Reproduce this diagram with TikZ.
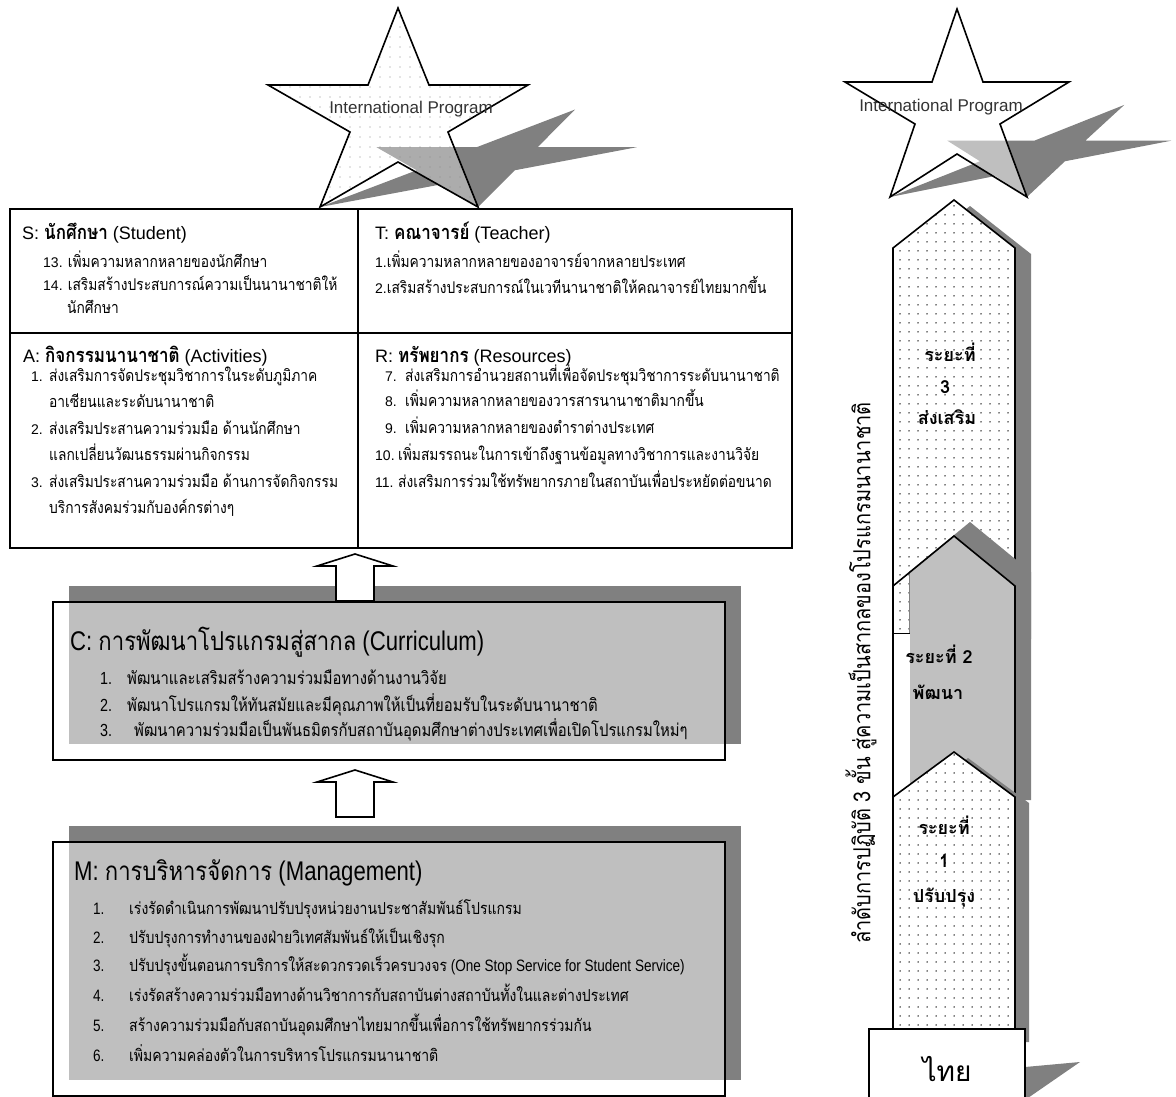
\documentclass[tikz,border=0pt]{standalone}
\usepackage{fontspec}
\setmainfont{Liberation Sans}
\newfontfamily\thfont[Script=Thai]{Loma}
\newfontfamily\thtab[Script=Thai,FakeStretch=0.85]{Loma}
\newfontfamily\thnarrow[Script=Thai,FakeStretch=0.85]{Loma}
\newfontfamily\latnarrow[FakeStretch=0.82]{Liberation Sans}
\usepackage{tikz}
\usetikzlibrary{patterns.meta}
\definecolor{shade}{HTML}{808080}
\definecolor{panel}{HTML}{C0C0C0}
\tikzset{
  frame/.style={draw=black, line width=2pt},
  outline/.style={draw=black, line width=1.6pt, line join=miter},
  shadow/.style={fill=shade, draw=none},
  halfwhite/.style={fill=white, fill opacity=0.5},
  dotfill/.style={fill=white, postaction={pattern={Dots[distance=9pt, radius=0.75pt]}, pattern color=black}},
  hollow/.style={draw=black, line width=1.6pt, fill=white, line join=miter},
  hdr/.style={anchor=base west, inner sep=0pt, font=\fontsize{18}{20}\selectfont},
  itm/.style={anchor=base west, inner sep=0pt, font=\fontsize{14}{16}\selectfont},
  bighdr/.style={anchor=base west, inner sep=0pt, font=\latnarrow\fontsize{27}{30}\selectfont},
  citm/.style={anchor=base west, inner sep=0pt, font=\latnarrow\fontsize{17.5}{19}\selectfont},
  bigitm/.style={anchor=base west, inner sep=0pt, font=\latnarrow\fontsize{16.5}{18}\selectfont},
  startxt/.style={anchor=base, inner sep=0pt, text=black!80, font=\fontsize{17}{19}\selectfont},
  stagetxt/.style={anchor=base, inner sep=0pt, font=\thfont\bfseries\fontsize{18}{20}\selectfont},
  starL/.style={insert path={(398,8) -- (429,85) -- (528,85) -- (448,132) -- (478,207) -- (398,162) -- (320,207) -- (350,132) -- (268,85) -- (368,85) -- cycle}},
  starR/.style={insert path={(957,9) -- (983,82) -- (1069,82) -- (1000,124) -- (1027,197) -- (957,154) -- (890,197) -- (915,124) -- (845,82) -- (932,82) -- cycle}},
}
\newcommand\thb[1]{{\thtab\bfseries\fontsize{20}{22}\selectfont #1}}
\newcommand\thr[1]{{\thtab\fontsize{16.2}{18}\selectfont #1}}
\newcommand\thn[1]{{\thnarrow #1}}

\begin{document}
\begin{tikzpicture}[x=1pt, y=-1pt]
  \useasboundingbox (0,0) rectangle (1176,1097);

  % stars with their cast shadows
  \begin{scope}[cm={1,0,0.89,0.49,(184.2pt,-105.6pt)}]
    \fill[shadow, starL];
  \end{scope}
  \path[fill=white, fill opacity=0.35, starL];
  \path[pattern={Dots[distance=10pt, radius=0.7pt]}, pattern color=black!45, starL];
  \draw[outline, starL];
  \node[startxt] (ipleft) at (411,114) {International Program};

  \begin{scope}[cm={1,0,0.89,0.49,(175.3pt,-100.5pt)}]
    \fill[shadow, starR];
  \end{scope}
  \draw[outline, halfwhite, starR];
  \node[startxt] (ipright) at (941,112) {International Program};

  % STAR table
  \draw[frame] (10,209) rectangle (792,548);
  \draw[frame] (358,209) -- (358,548);
  \draw[frame] (10,333) -- (792,333);

  \node[hdr] (shead) at (22,239) {S: \thb{นักศึกษา} (Student)};
  \node[itm] (s13) at (43,267) {13. \thr{เพิ่มความหลากหลายของนักศึกษา}};
  \node[itm] (s14) at (43,290) {14. \thr{เสริมสร้างประสบการณ์ความเป็นนานาชาติให้}};
  \node[itm] (s14b) at (67,313) {\thr{นักศึกษา}};

  \node[hdr] (thead) at (375,239) {T: \thb{คณาจารย์} (Teacher)};
  \node[itm] (t1) at (375,267) {1.\thr{เพิ่มความหลากหลายของอาจารย์จากหลายประเทศ}};
  \node[itm] (t2) at (375,293) {2.\thr{เสริมสร้างประสบการณ์ในเวทีนานาชาติให้คณาจารย์ไทยมากขึ้น}};

  \node[hdr] (ahead) at (23,362) {A: \thb{กิจกรรมนานาชาติ} (Activities)};
  \node[itm] (a1) at (31,381) {\makebox[18pt][l]{1.}\thr{ส่งเสริมการจัดประชุมวิชาการในระดับภูมิภาค}};
  \node[itm] (a1b) at (49,407) {\thr{อาเซียนและระดับนานาชาติ}};
  \node[itm] (a2) at (31,434) {\makebox[18pt][l]{2.}\thr{ส่งเสริมประสานความร่วมมือ ด้านนักศึกษา}};
  \node[itm] (a2b) at (49,460) {\thr{แลกเปลี่ยนวัฒนธรรมผ่านกิจกรรม}};
  \node[itm] (a3) at (31,487) {\makebox[18pt][l]{3.}\thr{ส่งเสริมประสานความร่วมมือ ด้านการจัดกิจกรรม}};
  \node[itm] (a3b) at (49,513) {\thr{บริการสังคมร่วมกับองค์กรต่างๆ}};

  \node[hdr] (rhead) at (375,362) {R: \thb{ทรัพยากร} (Resources)};
  \node[itm] (r7) at (385,381) {\makebox[20pt][l]{7.}\thr{ส่งเสริมการอำนวยสถานที่เพื่อจัดประชุมวิชาการระดับนานาชาติ}};
  \node[itm] (r8) at (385,406) {\makebox[20pt][l]{8.}\thr{เพิ่มความหลากหลายของวารสารนานาชาติมากขึ้น}};
  \node[itm] (r9) at (385,433) {\makebox[20pt][l]{9.}\thr{เพิ่มความหลากหลายของตำราต่างประเทศ}};
  \node[itm] (r10) at (375,460) {\makebox[23pt][l]{10.}\thr{เพิ่มสมรรถนะในการเข้าถึงฐานข้อมูลทางวิชาการและงานวิจัย}};
  \node[itm] (r11) at (375,487) {\makebox[23pt][l]{11.}\thr{ส่งเสริมการร่วมใช้ทรัพยากรภายในสถาบันเพื่อประหยัดต่อขนาด}};

  % C box
  \fill[shadow] (69,586) rectangle (741,744);
  \draw[frame, halfwhite] (53,602) rectangle (725,760);
  \node[bighdr] (chead) at (70,650) {C: \thn{\fontsize{26}{28}\selectfont การพัฒนาโปรแกรมสู่สากล} (Curriculum)};
  \node[citm] (c1) at (100,684) {\makebox[27pt][l]{1.}\thn{พัฒนาและเสริมสร้างความร่วมมือทางด้านงานวิจัย}};
  \node[citm] (c2) at (100,711) {\makebox[27pt][l]{2.}\thn{พัฒนาโปรแกรมให้ทันสมัยและมีคุณภาพให้เป็นที่ยอมรับในระดับนานาชาติ}};
  \node[citm] (c3) at (100,736) {\makebox[34pt][l]{3.}\thn{พัฒนาความร่วมมือเป็นพันธมิตรกับสถาบันอุดมศึกษาต่างประเทศเพื่อเปิดโปรแกรมใหม่ๆ}};

  % M box
  \fill[shadow] (69,826) rectangle (741,1080);
  \draw[frame, halfwhite] (53,842) rectangle (725,1096);
  \node[bighdr] (mhead) at (74,880) {M: \thn{\fontsize{26}{28}\selectfont การบริหารจัดการ} (Management)};
  \node[bigitm] (m1) at (93,914) {\makebox[36pt][l]{1.}\thn{เร่งรัดดำเนินการพัฒนาปรับปรุงหน่วยงานประชาสัมพันธ์โปรแกรม}};
  \node[bigitm] (m2) at (93,943) {\makebox[36pt][l]{2.}\thn{ปรับปรุงการทำงานของฝ่ายวิเทศสัมพันธ์ให้เป็นเชิงรุก}};
  \node[bigitm] (m3) at (93,971) {\makebox[36pt][l]{3.}\thn{ปรับปรุงขั้นตอนการบริการให้สะดวกรวดเร็วครบวงจร} (One Stop Service for Student Service)};
  \node[bigitm] (m4) at (93,1001) {\makebox[36pt][l]{4.}\thn{เร่งรัดสร้างความร่วมมือทางด้านวิชาการกับสถาบันต่างสถาบันทั้งในและต่างประเทศ}};
  \node[bigitm] (m5) at (93,1031) {\makebox[36pt][l]{5.}\thn{สร้างความร่วมมือกับสถาบันอุดมศึกษาไทยมากขึ้นเพื่อการใช้ทรัพยากรร่วมกัน}};
  \node[bigitm] (m6) at (93,1061) {\makebox[36pt][l]{6.}\thn{เพิ่มความคล่องตัวในการบริหารโปรแกรมนานาชาติ}};

  % hollow up arrows between the blocks
  \coordinate (cfoot) at (355,601);
  \coordinate (mfoot) at (355,817);
  \foreach \f in {cfoot, mfoot}
    \draw[hollow] (\f) ++(-19,0) -- ++(0,-35) -- ++(-19,0) -- ++(38,-12) -- ++(38,12) -- ++(-19,0) -- ++(0,35) -- cycle;

  % stage column: 3 (top), 2, 1
  \fill[shadow] (909,254) -- (970,206) -- (1031,254) -- (1031,639) -- (909,639) -- cycle;
  \path[dotfill] (893,248) -- (954,200) -- (1015,248) -- (1015,633) -- (893,633) -- cycle;
  \draw[outline] (893,633) -- (893,248) -- (954,200) -- (1015,248) -- (1015,633);

  \fill[shadow] (909,572) -- (970,522) -- (1031,572) -- (1031,800) -- (909,800) -- cycle;
  \fill[panel] (910,572) -- (954,536) -- (1015,586) -- (1015,800) -- (910,800) -- cycle;
  \fill[white] (893,633) rectangle (910,800);
  \draw[shade, line width=1pt] (893,633) -- (910,633);
  \draw[outline] (893,586) -- (954,536) -- (1015,586) -- (1015,797);

  \fill[shadow] (907,803) -- (968,758) -- (1029,803) -- (1029,1042) -- (907,1042) -- cycle;
  \path[dotfill] (893,797) -- (954,752) -- (1015,797) -- (1015,1029) -- (893,1029) -- cycle;
  \draw[outline] (893,797) -- (954,752) -- (1015,797) -- (1015,1029);
  \draw[outline] (893,248) -- (893,1029);

  \node[stagetxt] (p3a) at (950,361) {ระยะที่};
  \node[stagetxt] (p3b) at (945,393) {3};
  \node[stagetxt] (p3c) at (947,424) {ส่งเสริม};
  \node[stagetxt] (p2a) at (939,663) {ระยะที่ 2};
  \node[stagetxt] (p2b) at (938,699) {พัฒนา};
  \node[stagetxt] (p1a) at (944,834) {ระยะที่};
  \node[stagetxt] (p1b) at (944,867) {1};
  \node[stagetxt] (p1c) at (944,902) {ปรับปรุง};

  % base block
  \fill[shadow] (1025,1067) -- (1080,1062) -- (1025,1100) -- cycle;
  \node[outline, fill=white, minimum width=156pt, minimum height=80pt, inner sep=0pt,
        font=\thfont\fontsize{28}{30}\selectfont] (thai) at (947,1069) {ไทย};

  \node[rotate=90, inner sep=0pt, font=\thnarrow\fontsize{23.5}{25}\selectfont] (seq) at (861,673)
    {ลำดับการปฏิบัติ 3 ขั้น สู่ความเป็นสากลของโปรแกรมนานาชาติ};
\end{tikzpicture}
\end{document}
